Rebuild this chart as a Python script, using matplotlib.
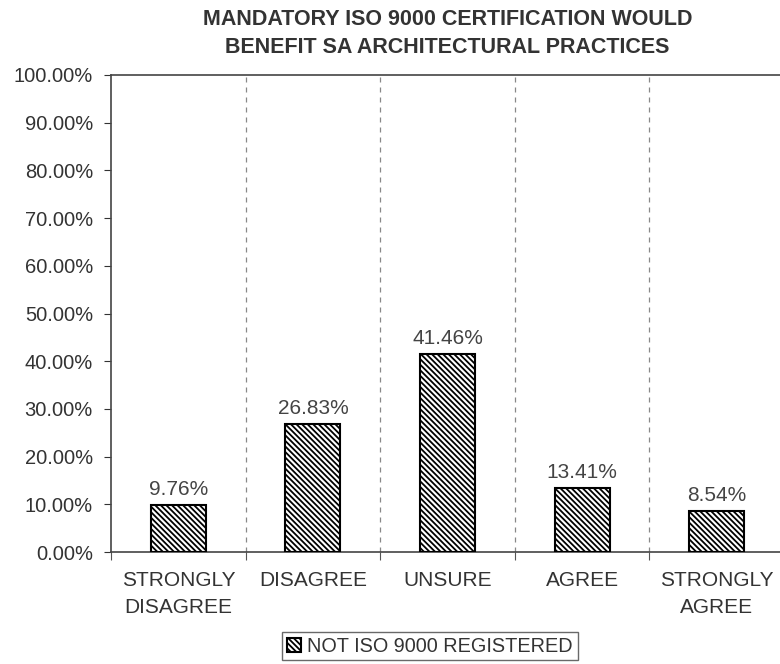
import matplotlib.pyplot as plt
from matplotlib.ticker import MultipleLocator, FuncFormatter
import numpy as np

# survey data
categories = ["STRONGLY\nDISAGREE", "DISAGREE", "UNSURE", "AGREE", "STRONGLY\nAGREE"]
values = [9.76, 26.83, 41.46, 13.41, 8.54]
series_name = "NOT ISO 9000 REGISTERED"
title = "MANDATORY ISO 9000 CERTIFICATION WOULD\nBENEFIT SA ARCHITECTURAL PRACTICES"

plt.rcParams['font.family'] = ['Liberation Sans', 'DejaVu Sans']
plt.rcParams['hatch.linewidth'] = 1.3

fig = plt.figure(figsize=(7.8, 6.64), dpi=100)
# axes runs slightly past right edge like the original scan
ax = fig.add_axes([111 / 780, 1 - 552 / 664, (784 - 111) / 780, (552 - 75) / 664])

x = np.arange(len(categories))
ax.bar(x, values, width=0.41, color='white', edgecolor='black', linewidth=1.5,
       hatch='\\\\\\\\\\\\', label=series_name, zorder=3)

for xi, v in zip(x, values):
    ax.text(xi, v + 1.3, f"{v:.2f}%", ha='center', va='bottom', fontsize=15, color='#444444')

ax.set_xlim(-0.5, len(categories) - 0.5)
ax.set_ylim(0, 100)
ax.yaxis.set_major_locator(MultipleLocator(10))
ax.yaxis.set_major_formatter(FuncFormatter(lambda v, _: f"{v:.2f}%"))
ax.tick_params(axis='y', labelsize=14.5, direction='out', length=5, pad=8,
               colors='#333333', labelcolor='#333333')

# category boundaries carry the ticks and dashed grid
bounds = np.arange(len(categories) + 1) - 0.5
ax.set_xticks(bounds)
ax.set_xticklabels([])
ax.set_xticks(x, minor=True)
ax.set_xticklabels(categories, minor=True, fontsize=15, color='#333333', linespacing=1.5)
ax.tick_params(axis='x', which='major', direction='out', length=6, colors='#555555')
ax.tick_params(axis='x', which='minor', length=0, pad=14)
for b in bounds[1:-1]:
    ax.axvline(b, color='#888888', linestyle=(0, (4, 4)), linewidth=0.9, zorder=1)

for s in ['left', 'top', 'bottom']:
    ax.spines[s].set_color('#444444')
    ax.spines[s].set_linewidth(1.2)
ax.spines['right'].set_visible(False)

ax.set_title(title, fontsize=15.5, fontweight='bold', color='#333333', pad=16,
             linespacing=1.45)

fig.legend(loc='center', bbox_to_anchor=(430 / 780, 1 - 646 / 664), fontsize=14.3,
           frameon=True, fancybox=False, edgecolor='#444444', handlelength=0.7,
           handleheight=0.7, handletextpad=0.3, borderpad=0.25, labelcolor='#333333')

fig.savefig("out.png", dpi=100)
